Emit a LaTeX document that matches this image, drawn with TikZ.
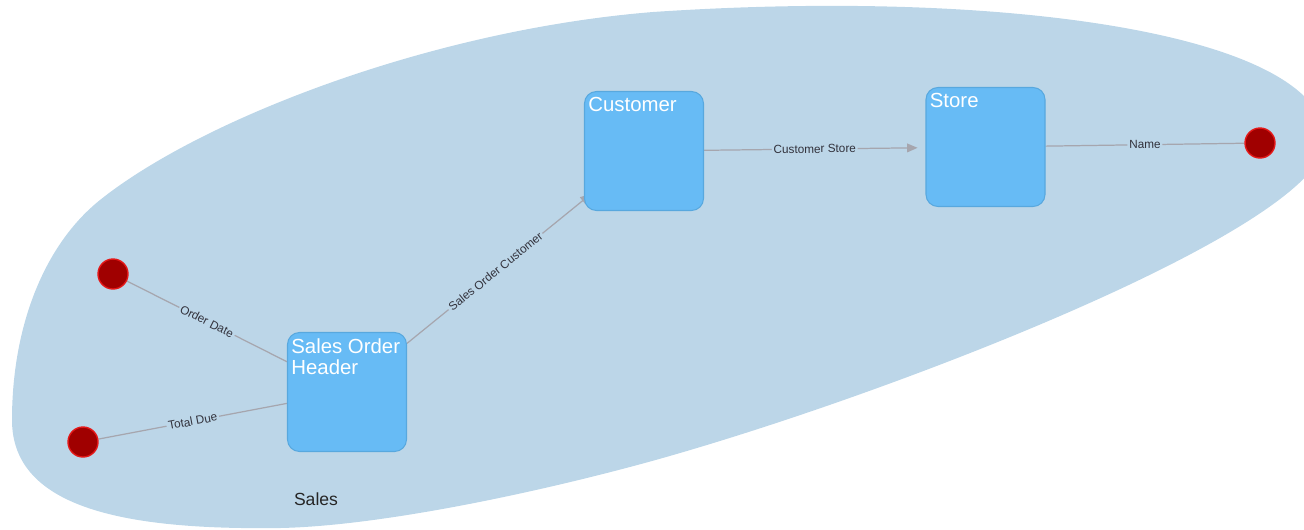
\documentclass[tikz,border=0pt]{standalone}
\usepackage{fontspec}
\setmainfont{Liberation Sans}
\usetikzlibrary{arrows.meta,backgrounds}

\definecolor{areablue}{RGB}{188,214,232}
\definecolor{entityblue}{RGB}{103,187,245}
\definecolor{entityline}{RGB}{88,168,222}
\definecolor{attrred}{RGB}{160,0,0}
\definecolor{attrline}{RGB}{228,24,24}
\definecolor{relgray}{RGB}{166,166,174}
\definecolor{labelgray}{RGB}{50,50,60}

\begin{document}
\begin{tikzpicture}[x=0.02cm, y=-0.02cm,
  entity/.style={draw=entityline, fill=entityblue, rounded corners=6.8pt, minimum width=2.38cm, minimum height=2.38cm, line width=0.6pt},
  attr/.style={draw=attrline, fill=attrred, circle, minimum size=0.6cm, inner sep=0pt, line width=0.8pt},
  rel/.style={draw=relgray, line width=0.7pt},
  tag/.style={fill=areablue, text=labelgray, inner sep=1pt, font=\fontsize{6.7}{8}\selectfont, sloped, midway},
  title/.style={anchor=north west, inner sep=0pt, xshift=2.3pt, yshift=-3.4pt, text=white, align=left, font=\fontsize{11.6}{12}\selectfont}]
\useasboundingbox (0,0) rectangle (1304,529);

\node[entity, label={[title]north west:Customer}] (cust) at (644,151) {};
\node[entity, label={[title]north west:Store}] (store) at (985.5,147) {};
\node[entity, label={[title]north west:Sales Order\\Header}] (soh) at (347,392) {};

\node[attr] (name) at (1260,143) {};
\node[attr] (odate) at (113,274) {};
\node[attr] (tdue) at (83,442) {};

\node[font=\fontsize{10}{12}\selectfont, text=black!85] (area) at (316,499) {Sales};

\begin{scope}[on background layer]
% the Sales area
\fill[areablue] (12,420) .. controls (12,325) and (45,244) .. (100,200)
  .. controls (200,120) and (430,30) .. (653,12)
  .. controls (1010,-12) and (1325,35) .. (1325,140)
  .. controls (1328,225) and (893,394) .. (652,461)
  .. controls (536,493) and (380,526) .. (280,528)
  .. controls (130,530) and (12,510) .. (12,420) -- cycle;

\draw[rel] (odate) -- node[tag] {Order Date} (soh);
\draw[rel] (tdue) -- node[tag] {Total Due} (soh);
\draw[rel, -{Triangle[length=6pt,width=5pt]}, shorten >=-5pt] (soh) -- node[tag] {Sales Order Customer} (cust);
\draw[rel, -{Triangle[length=6pt,width=5pt]}, shorten >=4.5pt] (cust) -- node[tag] {Customer Store} (store);
\draw[rel] (store) -- node[tag] {Name} (name);
\end{scope}
\end{tikzpicture}
\end{document}
